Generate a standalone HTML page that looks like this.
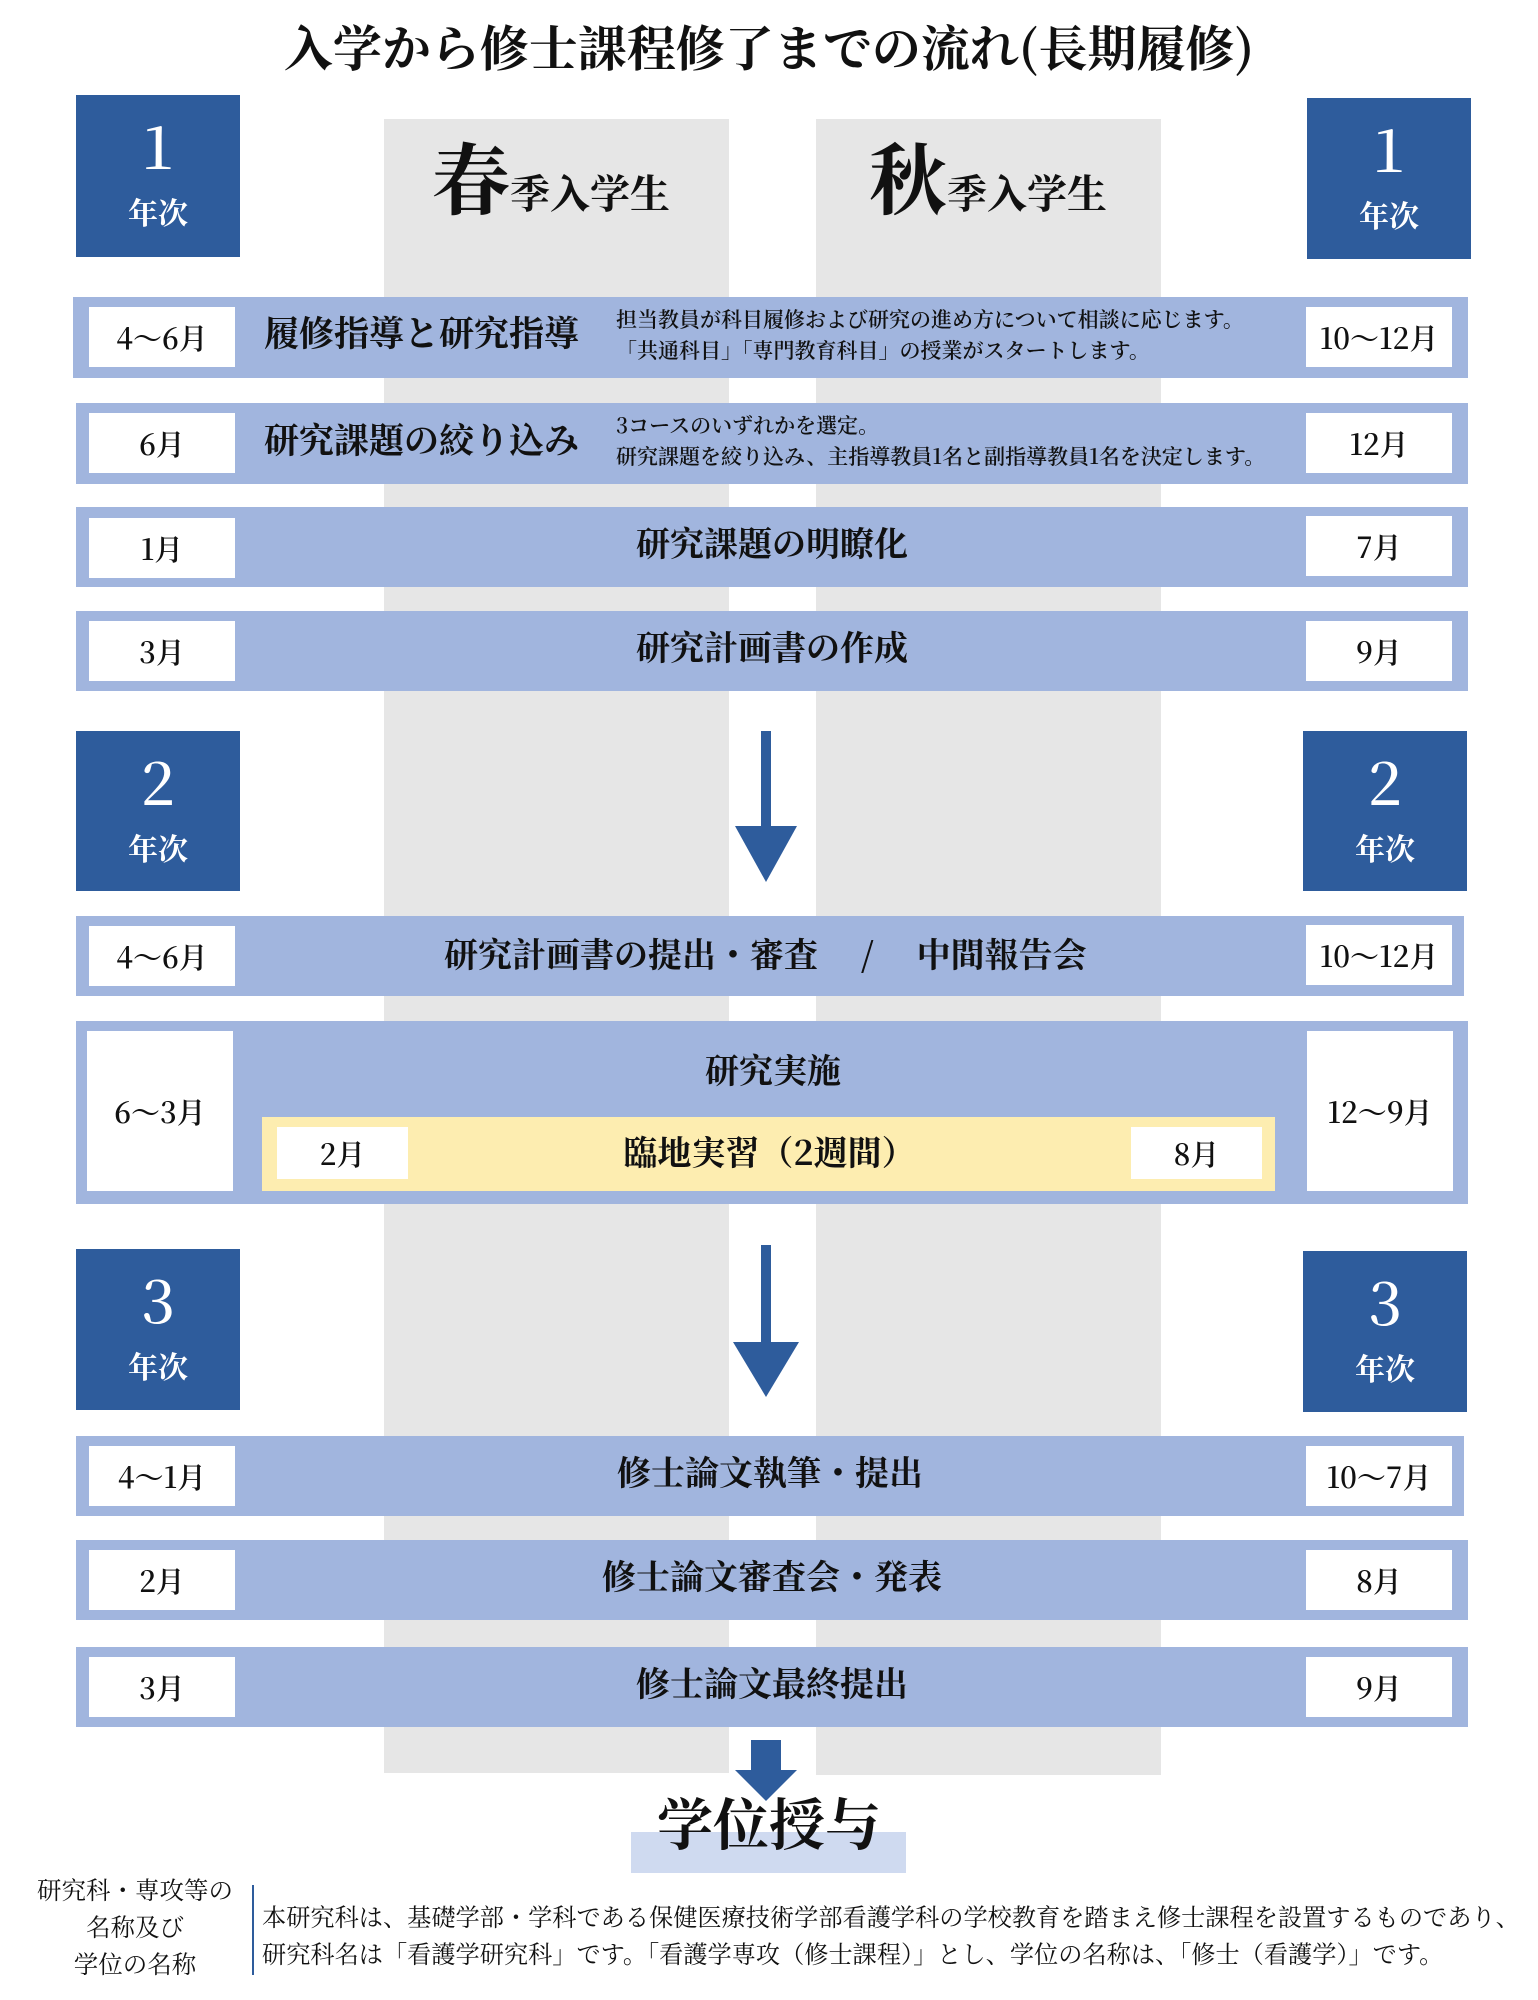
<!DOCTYPE html>
<html><head><meta charset="utf-8">
<style>
*{margin:0;padding:0;box-sizing:border-box}
body{width:1538px;height:2000px;background:#fff;position:relative;overflow:hidden;font-family:"Noto Serif CJK SC","Liberation Serif",serif;color:#111}
.a{position:absolute}
.grey{background:#e6e6e6}
.yr{background:#2e5c9c;color:#fff;text-align:center}
.yr .n{position:absolute;left:0;right:0;top:14px;font-size:60px;line-height:70px;font-weight:500}
.yr .k{position:absolute;left:0;right:0;top:96px;font-size:30px;line-height:40px;font-weight:bold}
.row{background:#a1b5de}
.wb{background:#fff;display:flex;align-items:center;justify-content:center;font-size:29px;font-weight:600}
.ct{display:flex;align-items:center;justify-content:center;font-size:34px;font-weight:bold;padding-bottom:12px}
</style></head><body>
<div class="a" style="left:0;right:0;top:14px;text-align:center;font-size:49px;font-weight:bold;line-height:64px">入学から修士課程修了までの流れ(長期履修)</div>

<div class="a grey" style="left:384px;top:119px;width:345px;height:1654px"></div>
<div class="a grey" style="left:816px;top:119px;width:345px;height:1656px"></div>

<div class="a" style="left:432px;top:120px;font-weight:bold;white-space:nowrap;line-height:110px"><span style="font-size:78px">春</span><span style="font-size:40px">季入学生</span></div>
<div class="a" style="left:869px;top:120px;font-weight:bold;white-space:nowrap;line-height:110px"><span style="font-size:78px">秋</span><span style="font-size:40px">季入学生</span></div>

<div class="a yr" style="left:76px;top:95px;width:164px;height:162px"><div class="n">1</div><div class="k">年次</div></div>
<div class="a yr" style="left:1307px;top:98px;width:164px;height:161px"><div class="n">1</div><div class="k">年次</div></div>
<div class="a yr" style="left:76px;top:731px;width:164px;height:160px"><div class="n">2</div><div class="k">年次</div></div>
<div class="a yr" style="left:1303px;top:731px;width:164px;height:160px"><div class="n">2</div><div class="k">年次</div></div>
<div class="a yr" style="left:76px;top:1249px;width:164px;height:161px"><div class="n">3</div><div class="k">年次</div></div>
<div class="a yr" style="left:1303px;top:1251px;width:164px;height:161px"><div class="n">3</div><div class="k">年次</div></div>

<!-- row1 -->
<div class="a row" style="left:73px;top:297px;width:1395px;height:81px"></div>
<div class="a wb" style="left:89px;top:307px;width:146px;height:60px">4～6月</div>
<div class="a wb" style="left:1306px;top:307px;width:146px;height:60px">10～12月</div>
<div class="a" style="left:264px;top:307px;font-size:35px;font-weight:bold;white-space:nowrap;line-height:50px">履修指導と研究指導</div>
<div class="a" style="left:616px;top:304px;font-size:21px;font-weight:600;line-height:31px;white-space:nowrap">担当教員が科目履修および研究の進め方について相談に応じます。<br>「共通科目」「専門教育科目」の授業がスタートします。</div>

<!-- row2 -->
<div class="a row" style="left:76px;top:403px;width:1392px;height:81px"></div>
<div class="a wb" style="left:89px;top:413px;width:146px;height:60px">6月</div>
<div class="a wb" style="left:1306px;top:413px;width:146px;height:60px">12月</div>
<div class="a" style="left:264px;top:414px;font-size:35px;font-weight:bold;white-space:nowrap;line-height:50px">研究課題の絞り込み</div>
<div class="a" style="left:616px;top:410px;font-size:21px;font-weight:600;line-height:31px;white-space:nowrap">3コースのいずれかを選定。<br>研究課題を絞り込み、主指導教員1名と副指導教員1名を決定します。</div>

<!-- row3 -->
<div class="a row ct" style="left:76px;top:507px;width:1392px;height:80px">研究課題の明瞭化</div>
<div class="a wb" style="left:89px;top:518px;width:146px;height:60px">1月</div>
<div class="a wb" style="left:1306px;top:516px;width:146px;height:60px">7月</div>

<!-- row4 -->
<div class="a row ct" style="left:76px;top:611px;width:1392px;height:80px">研究計画書の作成</div>
<div class="a wb" style="left:89px;top:621px;width:146px;height:60px">3月</div>
<div class="a wb" style="left:1306px;top:621px;width:146px;height:60px">9月</div>

<!-- arrow1 -->
<div class="a" style="left:761px;top:731px;width:10px;height:98px;background:#2e5c9c"></div>
<svg class="a" style="left:735px;top:826px" width="62" height="56"><polygon points="0,0 62,0 31,56" fill="#2e5c9c"/></svg>

<!-- row5 -->
<div class="a row" style="left:76px;top:916px;width:1388px;height:80px"></div>
<div class="a wb" style="left:89px;top:926px;width:146px;height:60px">4～6月</div>
<div class="a wb" style="left:1306px;top:925px;width:146px;height:60px">10～12月</div>
<div class="a" style="left:444px;top:928px;font-size:34px;font-weight:bold;white-space:nowrap;line-height:50px">研究計画書の提出・審査 &nbsp;&nbsp;&nbsp;&nbsp;/&nbsp;&nbsp;&nbsp;&nbsp; 中間報告会</div>

<!-- row6 -->
<div class="a row" style="left:76px;top:1021px;width:1392px;height:183px"></div>
<div class="a wb" style="left:87px;top:1031px;width:146px;height:160px">6～3月</div>
<div class="a wb" style="left:1307px;top:1031px;width:146px;height:160px">12～9月</div>
<div class="a ct" style="left:240px;top:1044px;width:1066px;height:60px">研究実施</div>
<div class="a" style="left:262px;top:1117px;width:1013px;height:74px;background:#fdedb0"></div>
<div class="a wb" style="left:277px;top:1127px;width:131px;height:52px">2月</div>
<div class="a wb" style="left:1131px;top:1127px;width:131px;height:52px">8月</div>
<div class="a ct" style="left:408px;top:1124px;width:723px;height:64px">臨地実習（2週間）</div>

<!-- arrow2 -->
<div class="a" style="left:761px;top:1245px;width:10px;height:100px;background:#2e5c9c"></div>
<svg class="a" style="left:733px;top:1342px" width="66" height="55"><polygon points="0,0 66,0 33,55" fill="#2e5c9c"/></svg>

<!-- row7 -->
<div class="a row ct" style="left:76px;top:1436px;width:1388px;height:80px">修士論文執筆・提出</div>
<div class="a wb" style="left:89px;top:1446px;width:146px;height:60px">4～1月</div>
<div class="a wb" style="left:1306px;top:1446px;width:146px;height:60px">10～7月</div>
<!-- row8 -->
<div class="a row ct" style="left:76px;top:1540px;width:1392px;height:80px">修士論文審査会・発表</div>
<div class="a wb" style="left:89px;top:1550px;width:146px;height:60px">2月</div>
<div class="a wb" style="left:1306px;top:1550px;width:146px;height:60px">8月</div>
<!-- row9 -->
<div class="a row ct" style="left:76px;top:1647px;width:1392px;height:80px">修士論文最終提出</div>
<div class="a wb" style="left:89px;top:1657px;width:146px;height:60px">3月</div>
<div class="a wb" style="left:1306px;top:1657px;width:146px;height:60px">9月</div>

<!-- final arrow -->
<div class="a" style="left:631px;top:1832px;width:275px;height:41px;background:#cfdaf0"></div>
<div class="a" style="left:751px;top:1740px;width:30px;height:33px;background:#2e5c9c"></div>
<div class="a" style="left:0;width:1538px;top:1782px;text-align:center;font-size:56px;font-weight:bold;line-height:80px">学位授与</div>
<svg class="a" style="left:735px;top:1770px" width="62" height="31"><polygon points="0,0 62,0 31,31" fill="#2e5c9c"/></svg>

<!-- footer -->
<div class="a" style="left:14px;top:1871px;width:242px;text-align:center;font-size:24.5px;line-height:37px">研究科・専攻等の<br>名称及び<br>学位の名称</div>
<div class="a" style="left:252px;top:1885px;width:2px;height:90px;background:#2e5c9c"></div>
<div class="a" style="left:262px;top:1897px;font-size:24.2px;line-height:37px;white-space:nowrap">本研究科は、基礎学部・学科である保健医療技術学部看護学科の学校教育を踏まえ修士課程を設置するものであり、<br>研究科名は「看護学研究科」です。「看護学専攻（修士課程）」とし、学位の名称は、「修士（看護学）」です。</div>
</body></html>
